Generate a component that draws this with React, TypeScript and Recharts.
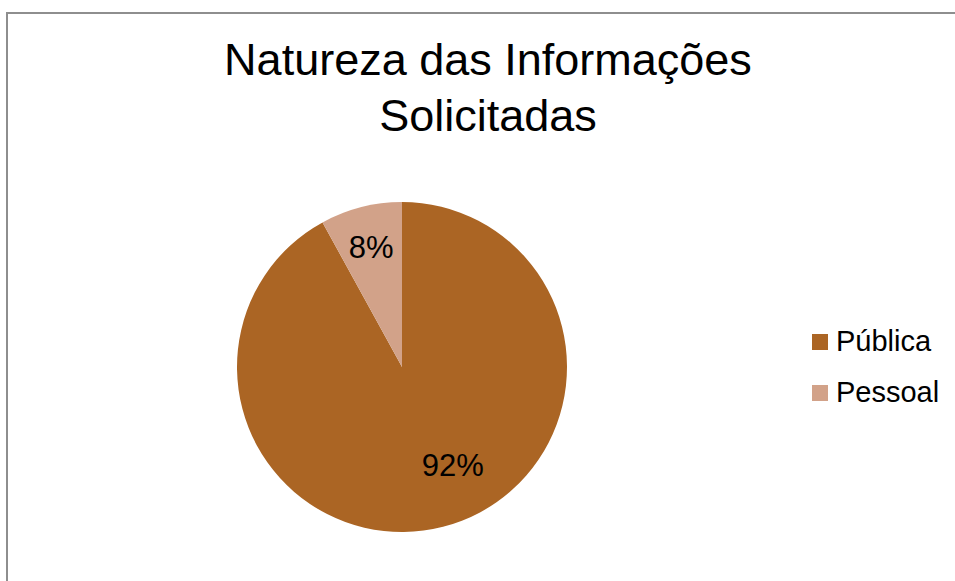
import { PieChart, Pie, Cell, Legend } from 'recharts';

const CATEGORIES = ['Pública', 'Pessoal'];
const VALUES = [92, 8];
const COLORS = ['#AB6524', '#D2A289'];
const TITLE_LINES = ['Natureza das Informações', 'Solicitadas'];

const data = CATEGORIES.map((name, i) => ({ name, value: VALUES[i] }));

const FONT = '"Liberation Sans", Arial, sans-serif';
const RADIAN = Math.PI / 180;

// Excel nudges the big slice label a bit off its mid angle
const LABEL_RADIUS = [0.67, 0.75];
const LABEL_ANGLE_SHIFT = [13, 0];

const renderLabel = (props: any) => {
  const { cx, cy, midAngle, outerRadius, index, percent } = props;
  const r = outerRadius * LABEL_RADIUS[index];
  const a = (midAngle + LABEL_ANGLE_SHIFT[index]) * RADIAN;
  const x = cx + r * Math.cos(a);
  const y = cy - r * Math.sin(a);
  return (
    <text
      x={x}
      y={y}
      fill="#000"
      textAnchor="middle"
      dominantBaseline="central"
      fontSize={31}
      fontFamily={FONT}
    >
      {`${Math.round(percent * 100)}%`}
    </text>
  );
};

// legend in data order (recharts would sort it otherwise)
const renderLegend = () => (
  <div style={{ fontFamily: FONT }}>
    {data.map((entry, i) => (
      <div key={entry.name} style={{ display: 'flex', alignItems: 'center', height: 51 }}>
        <span
          style={{
            width: 16,
            height: 16,
            background: COLORS[i % COLORS.length],
            display: 'inline-block',
            marginRight: 8,
          }}
        />
        <span style={{ fontSize: 29, color: '#000' }}>{entry.name}</span>
      </div>
    ))}
  </div>
);

const App = () => {
  return (
    <div
      style={{
        position: 'absolute',
        left: 0,
        top: 0,
        width: 955,
        height: 581,
        overflow: 'hidden',
        background: '#fff',
      }}
    >
      <div
        style={{
          position: 'absolute',
          left: 6,
          top: 12,
          width: 1000,
          height: 700,
          border: '2px solid #8e8e8e',
          boxSizing: 'border-box',
        }}
      />
      <div
        style={{
          position: 'absolute',
          left: 0,
          top: 32,
          width: 976,
          textAlign: 'center',
          fontFamily: FONT,
          fontSize: 45,
          lineHeight: '56px',
          color: '#000',
        }}
      >
        {TITLE_LINES.map((t) => (
          <div key={t}>{t}</div>
        ))}
      </div>
      <div style={{ position: 'absolute', left: 0, top: 0 }}>
        <PieChart width={955} height={581} margin={{ top: 0, right: 0, bottom: 0, left: 0 }}>
          <Pie
            data={data}
            dataKey="value"
            nameKey="name"
            cx={402}
            cy={367}
            outerRadius={165}
            startAngle={90}
            endAngle={-270}
            stroke="none"
            label={renderLabel}
            labelLine={false}
            isAnimationActive={false}
          >
            {data.map((_, index) => (
              <Cell key={index} fill={COLORS[index % COLORS.length]} />
            ))}
          </Pie>
          <Legend
            content={renderLegend}
            layout="vertical"
            align="right"
            verticalAlign="top"
            wrapperStyle={{ left: 812, top: 316, width: 140 }}
          />
        </PieChart>
      </div>
    </div>
  );
};

export default App;
